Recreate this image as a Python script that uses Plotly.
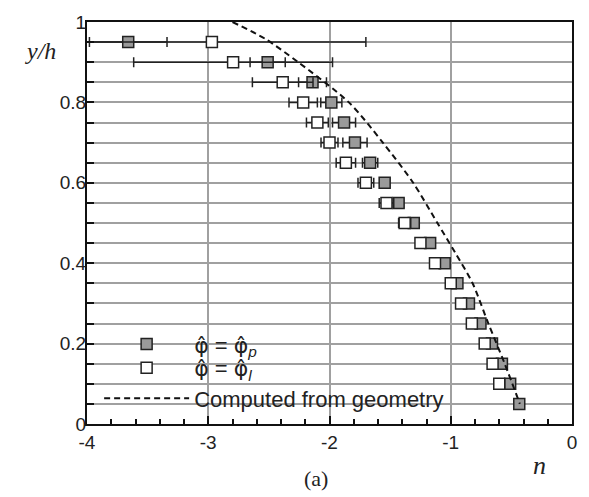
import plotly.graph_objects as go

# ---- data ----
y_p = [0.95, 0.90, 0.85, 0.80, 0.75, 0.70, 0.65, 0.60, 0.55, 0.50,
       0.45, 0.40, 0.35, 0.30, 0.25, 0.20, 0.15, 0.10, 0.05]
n_p = [-3.66, -2.51, -2.14, -1.985, -1.88, -1.79, -1.665, -1.545, -1.43, -1.305,
       -1.17, -1.05, -0.945, -0.85, -0.755, -0.66, -0.578, -0.51, -0.435]
err_p = [0.32, 0.145, 0.115, 0.087, 0.095, 0.10, 0.063, 0.04, 0.04, 0.03,
         0.02, 0.02, 0.02, 0.02, 0.02, 0.02, 0.02, 0.02, 0.02]

y_l = [0.95, 0.90, 0.85, 0.80, 0.75, 0.70, 0.65, 0.60, 0.55, 0.50,
       0.45, 0.40, 0.35, 0.30, 0.25, 0.20, 0.15, 0.10]
n_l = [-2.97, -2.795, -2.386, -2.217, -2.10, -2.00, -1.865, -1.70, -1.53, -1.38,
       -1.25, -1.13, -1.00, -0.915, -0.826, -0.72, -0.655, -0.60]
err_l = [1.27, 0.82, 0.25, 0.117, 0.09, 0.07, 0.08, 0.065, 0.06, 0.05,
         0.03, 0.02, 0.02, 0.02, 0.02, 0.02, 0.02, 0.02]

curve_y = [1.0, 0.958, 0.90, 0.80, 0.70, 0.60, 0.50, 0.426, 0.35, 0.25, 0.15, 0.05]
curve_n = [-2.80, -2.53, -2.258, -1.84, -1.56, -1.31, -1.11, -0.963, -0.82, -0.69, -0.555, -0.43]

x_ticks = [-4, -3, -2, -1, 0]
x_tick_text = ["-4", "-3", "-2", "-1", "0"]
y_ticks = [0, 0.2, 0.4, 0.6, 0.8, 1]

PHI = '<span style="font-family:DejaVu Sans">φ̂</span>'

fig = go.Figure()

fig.add_trace(go.Scatter(
    x=n_p, y=y_p, mode="markers", legend="legend",
    name=PHI + " = " + PHI + "<sub><i>p</i></sub>",
    marker=dict(symbol="square", size=11, color="#9a9a9a",
                line=dict(color="#222", width=1.5)),
    error_x=dict(type="data", array=err_p, color="#222", thickness=1.5, width=5),
))
fig.add_trace(go.Scatter(
    x=n_l, y=y_l, mode="markers", legend="legend2",
    name=PHI + " = " + PHI + "<sub><i>l</i></sub>",
    marker=dict(symbol="square", size=11, color="white",
                line=dict(color="#222", width=1.5)),
    error_x=dict(type="data", array=err_l, color="#222", thickness=1.5, width=5),
))
fig.add_trace(go.Scatter(
    x=curve_n, y=curve_y, mode="lines", name="Computed from geometry", legend="legend3",
    line=dict(color="#111", width=2, dash="6px,4px", shape="spline", smoothing=0.8),
))

axis_common = dict(
    showline=True, linecolor="#111", linewidth=2, mirror=True,
    ticks="inside", tickcolor="#111", tickwidth=1.5,
    gridcolor="#a0a0a0", gridwidth=1.5, zeroline=False,
    tickfont=dict(family="Liberation Sans, Arial", size=19, color="#222"),
)

def leg(y):
    return dict(x=0.025, y=y, xanchor="left", yanchor="middle",
                bgcolor="rgba(0,0,0,0)", borderwidth=0,
                font=dict(family="Liberation Sans, Arial", size=22, color="#222"),
                itemwidth=85)

fig.update_layout(
    width=589, height=497,
    margin=dict(l=87, r=13, t=16, b=73),
    paper_bgcolor="white", plot_bgcolor="white",
    showlegend=True,
    legend=leg(0.1985),
    legend2=leg(0.1397),
    legend3=leg(0.0637),
    xaxis=dict(range=[-4, 0], tickvals=x_ticks, ticktext=x_tick_text, ticklen=8,
               minor=dict(dtick=0.2, ticks="inside", ticklen=5, tickcolor="#111",
                          showgrid=False),
               **axis_common),
    yaxis=dict(range=[0, 1], tickvals=y_ticks, ticklen=7, ticklabelstandoff=-5,
               minor=dict(dtick=0.05, ticks="inside", ticklen=7, tickcolor="#111",
                          showgrid=True, gridcolor="#a0a0a0", gridwidth=1.5),
               **axis_common),
    shapes=[dict(type="rect", xref="paper", yref="paper",
                 x0=0.003, x1=0.74, y0=0.004, y1=0.238,
                 fillcolor="white", line=dict(width=0), layer="between")],
    annotations=[
        dict(text="<i>y/h</i>", x=-0.096, y=0.929, xref="paper", yref="paper",
             xanchor="center", yanchor="middle", showarrow=False,
             font=dict(family="Liberation Serif, Times New Roman", size=24, color="#222")),
        dict(text="<i>n</i>", x=0.9325, y=-0.103, xref="paper", yref="paper",
             xanchor="center", yanchor="middle", showarrow=False,
             font=dict(family="Liberation Serif, Times New Roman", size=26, color="#222")),
        dict(text="(a)", x=0.472, y=-0.135, xref="paper", yref="paper",
             xanchor="center", yanchor="middle", showarrow=False,
             font=dict(family="Liberation Serif, Times New Roman", size=22, color="#222")),
    ],
)

fig.write_html("out.html")
